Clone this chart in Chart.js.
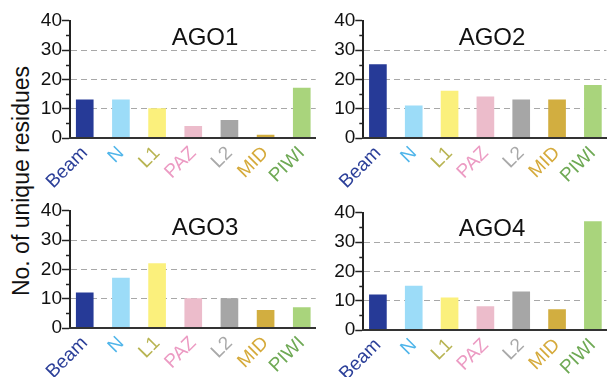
<!DOCTYPE html>
<html>
<head>
<meta charset="utf-8">
<script src="https://cdn.jsdelivr.net/npm/chart.js@4.4.1/dist/chart.umd.min.js"></script>
<style>
  html, body { margin: 0; padding: 0; background: #fff; }
  #page { position: relative; width: 613px; height: 377px; overflow: hidden; font-family: "Liberation Sans", Arial, sans-serif; }
  .box { position: absolute; }
  .title { position: absolute; font-size: 24px; color: #111; transform: translate(-50%, -50%); white-space: nowrap; }
  #ylab { position: absolute; left: 21px; top: 181px; font-size: 23px; color: #111; white-space: nowrap;
          transform: translate(-50%, -50%) rotate(-90deg); }
</style>
</head>
<body>
<div id="page">
  <div id="ylab">No. of unique residues</div>
</div>
<script>
// datos
const domains = ['Beam', 'N', 'L1', 'PAZ', 'L2', 'MID', 'PIWI'];
const ago1 = [13, 13, 10, 4, 6, 1, 17];
const ago2 = [25, 11, 16, 14, 13, 13, 18];
const ago3 = [12, 17, 22, 10, 10, 6, 7];
const ago4 = [12, 15, 11, 8, 13, 7, 37];
const yTicks = [0, 10, 20, 30, 40];

const barColors = ['#263a97', '#9cdcf8', '#fbf07c', '#ecbccb', '#a6a6a6', '#d2ae40', '#a9d47c'];
const labelColors = ['#2b3f99', '#4fb5ea', '#b8b452', '#ec9bc3', '#a9a9a9', '#d5aa3b', '#6ea954'];

Chart.defaults.font.family = '"Liberation Sans", Arial, sans-serif';

// ticks menores del eje y (5, 15, 25, 35)
const minorTicks = {
    id: 'minorTicks',
    afterDraw(chart) {
        const y = chart.scales.y;
        const ctx = chart.ctx;
        const left = chart.chartArea.left;
        ctx.save();
        ctx.strokeStyle = '#222';
        ctx.lineWidth = 1.5;
        [5, 15, 25, 35].forEach(v => {
            const py = Math.round(y.getPixelForValue(v)) + 0.5;
            ctx.beginPath();
            ctx.moveTo(left - 4, py);
            ctx.lineTo(left, py);
            ctx.stroke();
        });
        ctx.restore();
    }
};

const panels = [
    { name: 'AGO1', values: ago1, axisX: 70, top: 20.7, bottom: 137.3, right: 320, tx: 205, ty: 37 },
    { name: 'AGO2', values: ago2, axisX: 363.3, top: 20.7, bottom: 137.3, right: 613, tx: 492, ty: 37 },
    { name: 'AGO3', values: ago3, axisX: 70, top: 210.7, bottom: 327.3, right: 320, tx: 205, ty: 227 },
    { name: 'AGO4', values: ago4, axisX: 363.3, top: 212.7, bottom: 329.3, right: 613, tx: 492, ty: 228 }
];

const page = document.getElementById('page');
const yAxisW = 45, xAxisH = 50, spacing = 36.8, firstOffset = 15;

panels.forEach(p => {
    const left = Math.floor(p.axisX) - yAxisW;
    const top = Math.floor(p.top) - 14;
    const width = Math.min(613, Math.ceil(p.right) + 2) - left;
    const height = Math.ceil(p.bottom - top + xAxisH);

    const box = document.createElement('div');
    box.className = 'box';
    box.style.left = left + 'px';
    box.style.top = top + 'px';
    box.style.width = width + 'px';
    box.style.height = height + 'px';
    const canvas = document.createElement('canvas');
    box.appendChild(canvas);
    page.appendChild(box);

    const title = document.createElement('div');
    title.className = 'title';
    title.textContent = p.name;
    title.style.left = p.tx + 'px';
    title.style.top = p.ty + 'px';
    page.appendChild(title);

    const areaW = p.right - p.axisX;
    const xMin = -firstOffset / spacing;
    const xMax = xMin + areaW / spacing;

    new Chart(canvas, {
        type: 'bar',
        data: {
            datasets: [{
                data: p.values.map((v, i) => ({ x: i, y: v })),
                backgroundColor: barColors,
                borderWidth: 0,
                barThickness: 17
            }]
        },
        options: {
            responsive: true,
            maintainAspectRatio: false,
            animation: false,
            layout: {
                padding: {
                    left: p.axisX - left - yAxisW,
                    top: p.top - top,
                    right: left + width - p.right,
                    bottom: 0
                }
            },
            plugins: { legend: { display: false }, tooltip: { enabled: false } },
            scales: {
                x: {
                    type: 'linear',
                    offset: false,
                    min: xMin,
                    max: xMax,
                    afterFit: s => { s.height = xAxisH; },
                    grid: { display: false, drawTicks: false, offset: false },
                    border: { display: true, color: '#333', width: 2, z: 1 },
                    ticks: {
                        stepSize: 1,
                        includeBounds: false,
                        autoSkip: false,
                        minRotation: 45,
                        maxRotation: 45,
                        padding: 4,
                        font: { size: 19 },
                        color: ctx => labelColors[ctx.tick.value] || '#000',
                        callback: v => domains[v] !== undefined ? domains[v] : ''
                    }
                },
                y: {
                    min: yTicks[0],
                    max: yTicks[yTicks.length - 1],
                    afterFit: s => { s.width = yAxisW; },
                    afterBuildTicks: s => { s.ticks = yTicks.map(v => ({ value: v })); },
                    grid: {
                        color: ctx => (ctx.tick && ctx.tick.value > 0 && ctx.tick.value < 40) ? '#a8a8a8' : 'rgba(0,0,0,0)',
                        lineWidth: 1,
                        tickColor: '#222',
                        tickLength: 8,
                        tickWidth: 1.5
                    },
                    border: { display: true, color: '#222', width: 2, dash: [6, 4] },
                    ticks: {
                        padding: 0,
                        font: { size: 19 },
                        color: '#111'
                    }
                }
            }
        },
        plugins: [minorTicks]
    });
});
</script>
</body>
</html>
